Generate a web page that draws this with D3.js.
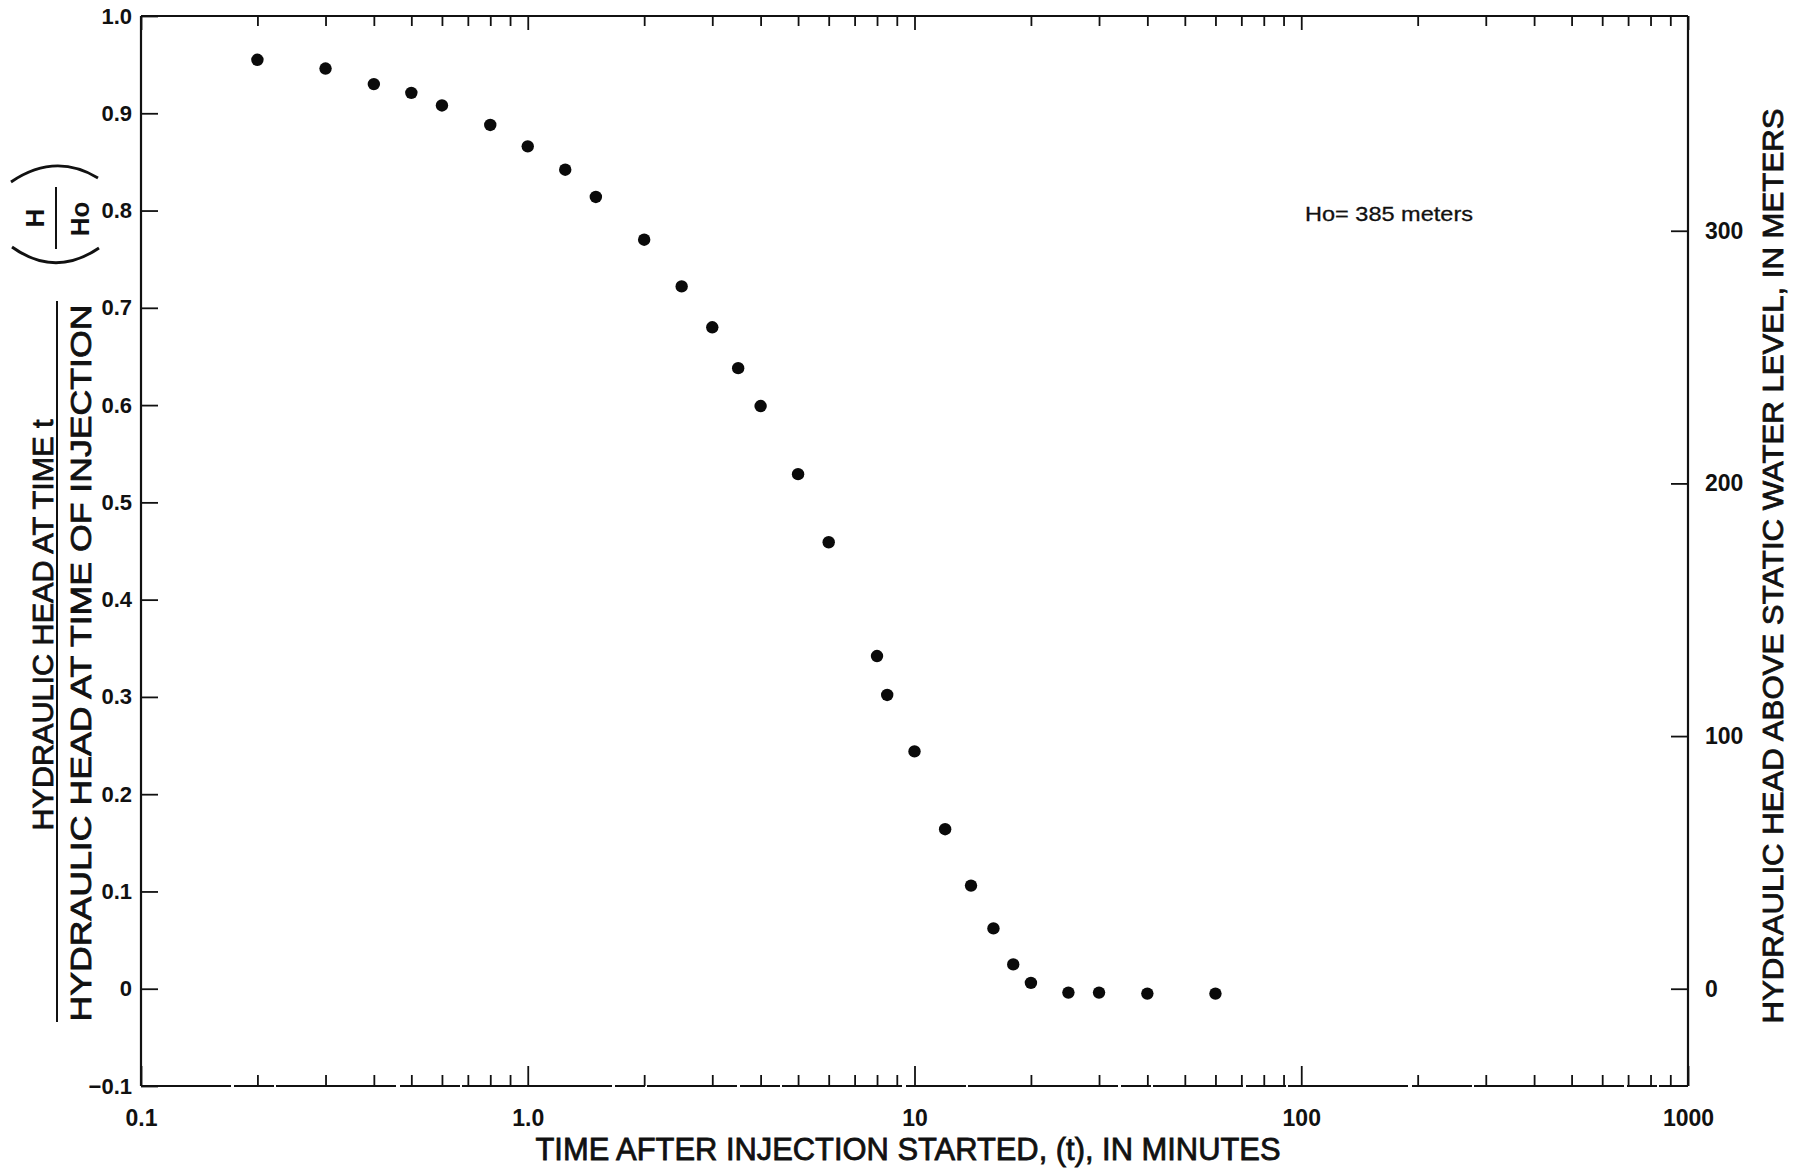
<!DOCTYPE html>
<html>
<head>
<meta charset="utf-8">
<script src="https://cdn.jsdelivr.net/npm/d3@7"></script>
<style>
  html, body { margin: 0; padding: 0; background: #fff; }
  svg { display: block; }
  text { font-family: "Liberation Sans", Arial, Helvetica, sans-serif; fill: #111; }
  .title { stroke: #111; stroke-width: 0.8; }
</style>
</head>
<body>
<svg id="chart" width="1804" height="1168"></svg>
<script>
// Time after injection started, minutes
const timeMin = [0.2, 0.3, 0.4, 0.5, 0.6, 0.8, 1.0, 1.25, 1.5, 2, 2.5, 3, 3.5, 4,
                 5, 6, 8, 8.5, 10, 12, 14, 16, 18, 20, 25, 30, 40, 60];
// Normalised hydraulic head H/Ho
const headRatio = [0.955, 0.946, 0.930, 0.921, 0.908, 0.888, 0.866, 0.842, 0.814, 0.770,
                   0.722, 0.680, 0.638, 0.599, 0.529, 0.459, 0.342, 0.302, 0.244, 0.164,
                   0.106, 0.062, 0.025, 0.006, -0.004, -0.004, -0.005, -0.005];
const Ho = 385; // metres
const xTickValues = [0.1, 1, 10, 100, 1000];
const xTickLabels = ["0.1", "1.0", "10", "100", "1000"];
const yTickValues = [-0.1, 0, 0.1, 0.2, 0.3, 0.4, 0.5, 0.6, 0.7, 0.8, 0.9, 1.0];
const yTickLabels = ["\u22120.1", "0", "0.1", "0.2", "0.3", "0.4", "0.5", "0.6", "0.7", "0.8", "0.9", "1.0"];
const metreTicks = [0, 100, 200, 300];

const svg = d3.select("#chart");
const L = 141, R = 1688, T = 16, B = 1086;

const x = d3.scaleLog().domain([0.1, 1000]).range([L, R]);
const y = d3.scaleLinear().domain([-0.1, 1.0]).range([B, T]);
const yM = d3.scaleLinear().domain([-0.1 * Ho, Ho]).range([B, T]);

// minor log ticks (2..9 in every decade)
const minor = [];
for (let d = 0.1; d < 1000; d *= 10) {
  for (let k = 2; k <= 9; k++) minor.push(+(d * k).toPrecision(3));
}

const tickFont = size => sel => sel.attr("font-size", size).attr("font-weight", "bold")
  .attr("fill", "#111").attr("font-family", "Liberation Sans, Arial, sans-serif");

const g = svg.append("g");

// frame
g.append("line").attr("x1", L).attr("x2", L).attr("y1", T).attr("y2", B)
  .attr("stroke", "#111").attr("stroke-width", 2.2);
g.append("line").attr("x1", R).attr("x2", R).attr("y1", T).attr("y2", B)
  .attr("stroke", "#111").attr("stroke-width", 2.2);
g.append("line").attr("x1", L).attr("x2", R).attr("y1", T).attr("y2", T)
  .attr("stroke", "#111").attr("stroke-width", 1.8);
g.append("line").attr("x1", L).attr("x2", R).attr("y1", B).attr("y2", B)
  .attr("stroke", "#111").attr("stroke-width", 1.8)
  .attr("stroke-dasharray", "90,3,40,2,120,4,60,2,150,3,30,2");

// bottom axis (ticks pointing up)
const gxb = g.append("g").attr("transform", `translate(0,${B})`)
  .call(d3.axisBottom(x).tickValues(xTickValues)
    .tickFormat((d, i) => xTickLabels[i]).tickSize(-20).tickPadding(24));
gxb.select(".domain").remove();
gxb.selectAll(".tick line").attr("stroke", "#111").attr("stroke-width", 1.8);
gxb.selectAll(".tick text").call(tickFont(23));
const gxbm = g.append("g").attr("transform", `translate(0,${B})`)
  .call(d3.axisBottom(x).tickValues(minor).tickSize(-11).tickFormat(""));
gxbm.select(".domain").remove();
gxbm.selectAll(".tick line").attr("stroke", "#111").attr("stroke-width", 1.8);

// top axis (ticks pointing down)
const gxt = g.append("g").attr("transform", `translate(0,${T})`)
  .call(d3.axisTop(x).tickValues(xTickValues).tickSize(-14).tickFormat(""));
gxt.select(".domain").remove();
gxt.selectAll(".tick line").attr("stroke", "#111").attr("stroke-width", 1.8);
const gxtm = g.append("g").attr("transform", `translate(0,${T})`)
  .call(d3.axisTop(x).tickValues(minor).tickSize(-10).tickFormat(""));
gxtm.select(".domain").remove();
gxtm.selectAll(".tick line").attr("stroke", "#111").attr("stroke-width", 1.8);

// left axis (ticks pointing inward)
const gyl = g.append("g").attr("transform", `translate(${L},0)`)
  .call(d3.axisLeft(y).tickValues(yTickValues)
    .tickFormat((d, i) => yTickLabels[i]).tickSize(-17).tickPadding(9));
gyl.select(".domain").remove();
gyl.selectAll(".tick line").attr("stroke", "#111").attr("stroke-width", 1.8);
gyl.selectAll(".tick text").call(tickFont(22));

// right axis in metres (ticks pointing inward)
const gyr = g.append("g").attr("transform", `translate(${R},0)`)
  .call(d3.axisRight(yM).tickValues(metreTicks).tickSize(-17).tickPadding(17));
gyr.select(".domain").remove();
gyr.selectAll(".tick line").attr("stroke", "#111").attr("stroke-width", 1.8);
gyr.selectAll(".tick text").call(tickFont(23));

// observations
g.append("g").selectAll("circle")
  .data(timeMin.map((t, i) => ({ t, h: headRatio[i] })))
  .join("circle")
  .attr("cx", d => x(d.t))
  .attr("cy", d => y(d.h))
  .attr("r", 6.2)
  .attr("fill", "#0a0a0a");

// annotation
svg.append("text").attr("x", 1305).attr("y", 221)
  .attr("font-size", 21).attr("textLength", 168).attr("lengthAdjust", "spacingAndGlyphs")
  .attr("stroke", "#111").attr("stroke-width", 0.3)
  .text("Ho= 385 meters");

// x-axis title
svg.append("text").attr("class", "title").attr("x", 908).attr("y", 1160)
  .attr("text-anchor", "middle").attr("font-size", 31)
  .attr("textLength", 745).attr("lengthAdjust", "spacingAndGlyphs")
  .text("TIME AFTER INJECTION STARTED, (t), IN MINUTES");

// right title
svg.append("text").attr("class", "title").attr("transform", "translate(1783,566) rotate(-90)")
  .attr("text-anchor", "middle").attr("font-size", 29)
  .attr("textLength", 915).attr("lengthAdjust", "spacingAndGlyphs")
  .text("HYDRAULIC HEAD ABOVE STATIC WATER LEVEL, IN METERS");

// left title: fraction
svg.append("text").attr("class", "title").attr("transform", "translate(53,625) rotate(-90)")
  .attr("text-anchor", "middle").attr("font-size", 29)
  .attr("textLength", 411).attr("lengthAdjust", "spacingAndGlyphs")
  .text("HYDRAULIC HEAD AT TIME t");
svg.append("line").attr("x1", 57).attr("x2", 57).attr("y1", 301).attr("y2", 1022)
  .attr("stroke", "#111").attr("stroke-width", 2);
svg.append("text").attr("class", "title").attr("transform", "translate(91,663) rotate(-90)")
  .attr("text-anchor", "middle").attr("font-size", 29)
  .attr("textLength", 717).attr("lengthAdjust", "spacingAndGlyphs")
  .text("HYDRAULIC HEAD AT TIME OF INJECTION");

// (H / Ho) symbol
const sym = svg.append("g");
sym.append("path").attr("d", "M11,182 Q55,152 98,178")
  .attr("fill", "none").attr("stroke", "#111").attr("stroke-width", 2.8);
sym.append("path").attr("d", "M12,247 Q55,278 99,248")
  .attr("fill", "none").attr("stroke", "#111").attr("stroke-width", 2.8);
sym.append("line").attr("x1", 56).attr("x2", 56).attr("y1", 187).attr("y2", 249)
  .attr("stroke", "#111").attr("stroke-width", 2);
sym.append("text").attr("transform", "translate(44,218) rotate(-90)")
  .attr("text-anchor", "middle").attr("font-size", 26).attr("font-weight", "bold").text("H");
sym.append("text").attr("transform", "translate(89,219) rotate(-90)")
  .attr("text-anchor", "middle").attr("font-size", 26).attr("font-weight", "bold").text("Ho");
</script>
</body>
</html>
